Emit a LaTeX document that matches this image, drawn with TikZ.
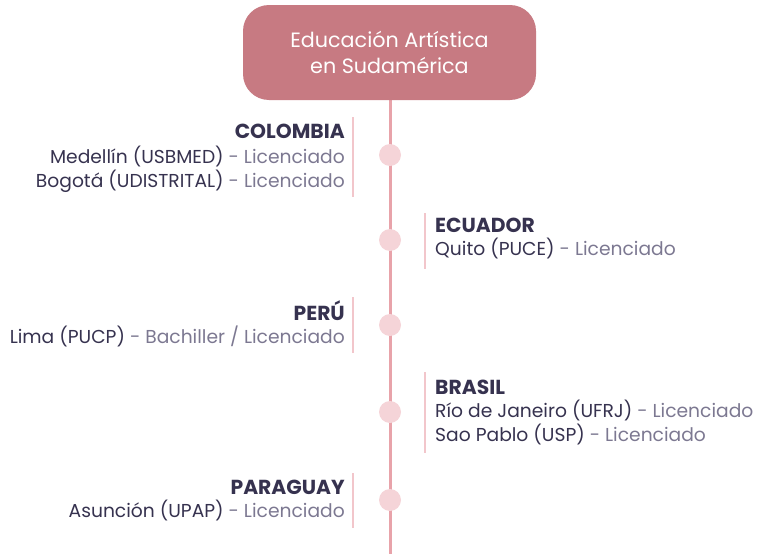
\documentclass[tikz,border=0pt]{standalone}
\usepackage{fontspec}
\setmainfont{Poppins}
\definecolor{titlebg}{HTML}{C77A82}
\definecolor{linec}{HTML}{E8A3AA}
\definecolor{dotc}{HTML}{F5D4D8}
\definecolor{barc}{HTML}{F2C6CB}
\definecolor{navy}{HTML}{36324F}
\definecolor{greyt}{HTML}{7C7891}
\tikzset{
  title/.style={draw=none, fill=titlebg, rounded corners=26pt, minimum width=293pt, minimum height=95pt, text=white, font=\fontsize{20.7}{26}\selectfont, align=center, inner sep=0pt},
  dot/.style={circle, fill=dotc, minimum size=22pt, inner sep=0pt},
  bar/.style={draw=barc, line width=2pt},
  spine/.style={draw=linec, line width=3pt},
  head/.style={font=\fontsize{20.3}{22}\selectfont\bfseries, text=navy, inner sep=0pt},
  item/.style={font=\fontsize{18.7}{22}\selectfont, text=navy, inner sep=0pt}
}
\newcommand{\lic}[1]{\textcolor{greyt}{#1}}
\begin{document}
\begin{tikzpicture}[x=1pt,y=-1pt]
\useasboundingbox (0,0) rectangle (758,554);
\coordinate (bottom) at (390,554);
\draw[spine] (390,100) -- (bottom);
\node[title] (t) at (389.5,52.5) {Educación Artística\\en Sudamérica};
\node[dot] (d1) at (390,155) {};
\node[dot] (d2) at (390,240) {};
\node[dot] (d3) at (390,325) {};
\node[dot] (d4) at (390,412) {};
\node[dot] (d5) at (390,500) {};
% bars
\coordinate (b1a) at (353,117); \coordinate (b1b) at (353,197);
\coordinate (b2a) at (425,213); \coordinate (b2b) at (425,269);
\coordinate (b3a) at (353,297); \coordinate (b3b) at (353,353);
\coordinate (b4a) at (425,372); \coordinate (b4b) at (425,453);
\coordinate (b5a) at (353,473); \coordinate (b5b) at (353,528);
\draw[bar] (b1a) -- (b1b);
\draw[bar] (b2a) -- (b2b);
\draw[bar] (b3a) -- (b3b);
\draw[bar] (b4a) -- (b4b);
\draw[bar] (b5a) -- (b5b);
% Colombia
\node[head, anchor=base east] (c0) at (345,138) {COLOMBIA};
\node[item, anchor=base east] (c1) at (345,163) {Medellín (USBMED) \lic{- Licenciado}};
\node[item, anchor=base east] (c2) at (345,187) {Bogotá (UDISTRITAL) \lic{- Licenciado}};
% Ecuador
\node[head, anchor=base west] (e0) at (435,232) {ECUADOR};
\node[item, anchor=base west] (e1) at (435,255) {Quito (PUCE) \lic{- Licenciado}};
% Peru
\node[head, anchor=base east] (p0) at (345,320) {PERÚ};
\node[item, anchor=base east] (p1) at (345,343) {Lima (PUCP) \lic{- Bachiller / Licenciado}};
% Brasil
\node[head, anchor=base west] (br0) at (435,394) {BRASIL};
\node[item, anchor=base west] (br1) at (435,417) {Río de Janeiro (UFRJ) \lic{- Licenciado}};
\node[item, anchor=base west] (br2) at (435,441) {Sao Pablo (USP) \lic{- Licenciado}};
% Paraguay
\node[head, anchor=base east] (pa0) at (345,494) {PARAGUAY};
\node[item, anchor=base east] (pa1) at (345,517) {Asunción (UPAP) \lic{- Licenciado}};
\end{tikzpicture}
\end{document}
